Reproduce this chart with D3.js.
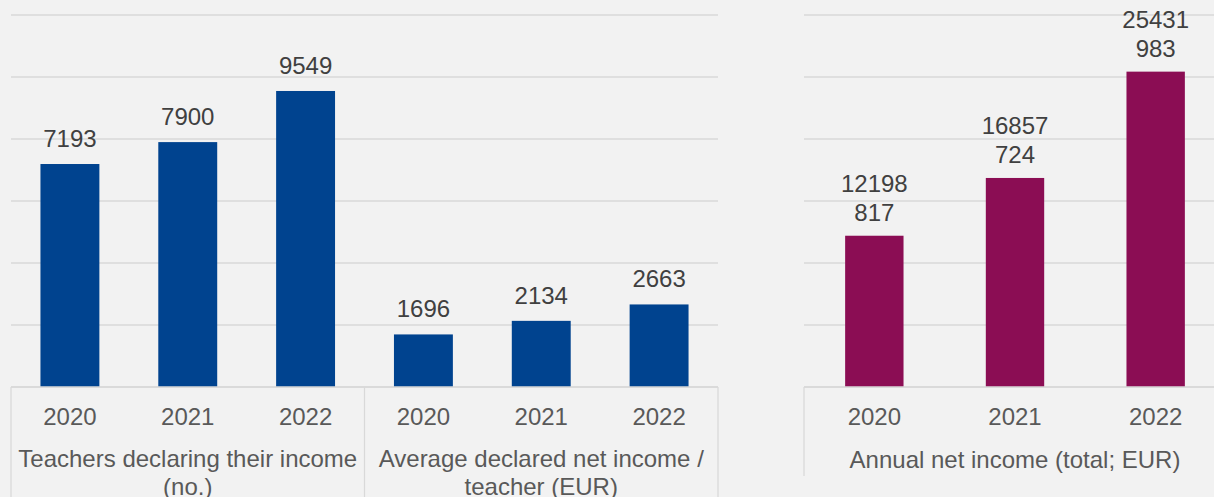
<!DOCTYPE html>
<html>
<head>
<meta charset="utf-8">
<script src="https://cdn.jsdelivr.net/npm/d3@7"></script>
<style>
  html, body { margin: 0; padding: 0; background: #f2f2f2; }
  svg { display: block; font-family: "Liberation Sans", Arial, sans-serif; }
</style>
</head>
<body>
<svg id="chart" width="1214" height="497"></svg>
<script>
// Teachers' income statistics, 2020-2022
const years = ["2020", "2021", "2022"];
const teachersDeclaring = [7193, 7900, 9549];
const avgNetIncome = [1696, 2134, 2663];
const annualNetIncomeTotal = [12198817, 16857724, 25431983];

const groupLabels = ["Teachers declaring their income (no.)", "Average declared net income / teacher (EUR)"];
const rightGroupLabel = "Annual net income (total; EUR)";

const leftGridValues = [0, 2000, 4000, 6000, 8000, 10000, 12000];
const rightGridValues = [0, 5000000, 10000000, 15000000, 20000000, 25000000, 30000000];

const W = 1214, H = 497;
const FONT = 24;
const BLUE = "#00438f", PURPLE = "#8b0d54";
const GRID = "#d9d9d9", LABEL = "#404040", AXIS = "#595959";

const svg = d3.select("#chart");

const baseY = 387, topY = 15;

// ---------- left panel: two groups sharing one value scale ----------
const leftRows = [];
groupLabels.forEach((g, gi) => {
  const vals = gi === 0 ? teachersDeclaring : avgNetIncome;
  years.forEach((yr, i) => leftRows.push({ key: g + "|" + yr, group: gi, year: yr, value: vals[i] }));
});

const xL = d3.scaleBand().domain(leftRows.map(d => d.key)).range([11, 718])
  .paddingInner(0.5).paddingOuter(0.25);
const yL = d3.scaleLinear().domain([0, 12000]).range([baseY, topY]);

const xR = d3.scaleBand().domain(years).range([804, 1226])
  .paddingInner(0.585).paddingOuter(0.2925);
const yR = d3.scaleLinear().domain([0, 30000000]).range([baseY, topY]);

// gridlines
function grid(xr, y, vals) {
  svg.append("g").selectAll("line").data(vals).join("line")
    .attr("x1", xr[0]).attr("x2", Math.min(xr[1], W))
    .attr("y1", d => y(d)).attr("y2", d => y(d))
    .attr("stroke", GRID).attr("stroke-width", 1.3);
}
grid(xL.range(), yL, leftGridValues);
grid(xR.range(), yR, rightGridValues);

// bars
svg.append("g").selectAll("rect").data(leftRows).join("rect")
  .attr("x", d => xL(d.key)).attr("width", xL.bandwidth())
  .attr("y", d => yL(d.value)).attr("height", d => baseY - yL(d.value))
  .attr("fill", BLUE);

const rightRows = years.map((yr, i) => ({ year: yr, value: annualNetIncomeTotal[i] }));
svg.append("g").selectAll("rect").data(rightRows).join("rect")
  .attr("x", d => xR(d.year)).attr("width", xR.bandwidth())
  .attr("y", d => yR(d.value)).attr("height", d => baseY - yR(d.value))
  .attr("fill", PURPLE);

// value labels
svg.append("g").selectAll("text").data(leftRows).join("text")
  .attr("x", d => xL(d.key) + xL.bandwidth() / 2)
  .attr("y", d => yL(d.value) - 17)
  .attr("text-anchor", "middle").attr("font-size", FONT).attr("fill", LABEL)
  .text(d => String(d.value));

// long totals wrap onto two lines
const rl = svg.append("g").selectAll("text").data(rightRows).join("text")
  .attr("text-anchor", "middle").attr("font-size", FONT).attr("fill", LABEL);
rl.each(function (d) {
  const s = String(d.value);
  const lines = [s.slice(0, 5), s.slice(5)];
  const cx = xR(d.year) + xR.bandwidth() / 2;
  const by = yR(d.value) - 15;
  d3.select(this).selectAll("tspan").data(lines).join("tspan")
    .attr("x", cx).attr("y", (l, i) => by - (lines.length - 1 - i) * 29)
    .text(l => l);
});

// category axis: baseline, separators, year labels, group labels
function hline(x1, x2, y) {
  svg.append("line").attr("x1", x1).attr("x2", x2).attr("y1", y).attr("y2", y)
    .attr("stroke", GRID).attr("stroke-width", 1.3);
}
function vline(x, y1, y2) {
  svg.append("line").attr("x1", x).attr("x2", x).attr("y1", y1).attr("y2", y2)
    .attr("stroke", GRID).attr("stroke-width", 1.3);
}
hline(11, 718, baseY);
hline(804, W, baseY);

const stepL = xL.step();
const groupEdges = [11, 11 + 3 * stepL, 718];
groupEdges.forEach(x => vline(x, baseY, H));
vline(804, baseY, 476);

svg.append("g").selectAll("text").data(leftRows).join("text")
  .attr("x", d => xL(d.key) + xL.bandwidth() / 2).attr("y", 425)
  .attr("text-anchor", "middle").attr("font-size", FONT).attr("fill", AXIS)
  .text(d => d.year);
svg.append("g").selectAll("text").data(rightRows).join("text")
  .attr("x", d => xR(d.year) + xR.bandwidth() / 2).attr("y", 425)
  .attr("text-anchor", "middle").attr("font-size", FONT).attr("fill", AXIS)
  .text(d => d.year);

function wrapLabel(text, cx, y, maxW) {
  const t = svg.append("text").attr("text-anchor", "middle")
    .attr("font-size", FONT).attr("fill", AXIS);
  const words = text.split(" ");
  let line = [], lineNo = 0;
  let tspan = t.append("tspan").attr("x", cx).attr("y", y);
  words.forEach(w => {
    line.push(w);
    tspan.text(line.join(" "));
    if (tspan.node().getComputedTextLength() > maxW && line.length > 1) {
      line.pop();
      tspan.text(line.join(" "));
      line = [w];
      lineNo++;
      tspan = t.append("tspan").attr("x", cx).attr("y", y + lineNo * 28).text(w);
    }
  });
}
groupLabels.forEach((g, gi) => {
  const cx = (groupEdges[gi] + groupEdges[gi + 1]) / 2;
  wrapLabel(g, cx, 467, groupEdges[gi + 1] - groupEdges[gi] - 8);
});
wrapLabel(rightGroupLabel, (xR.range()[0] + xR.range()[1]) / 2, 468, 410);
</script>
</body>
</html>
